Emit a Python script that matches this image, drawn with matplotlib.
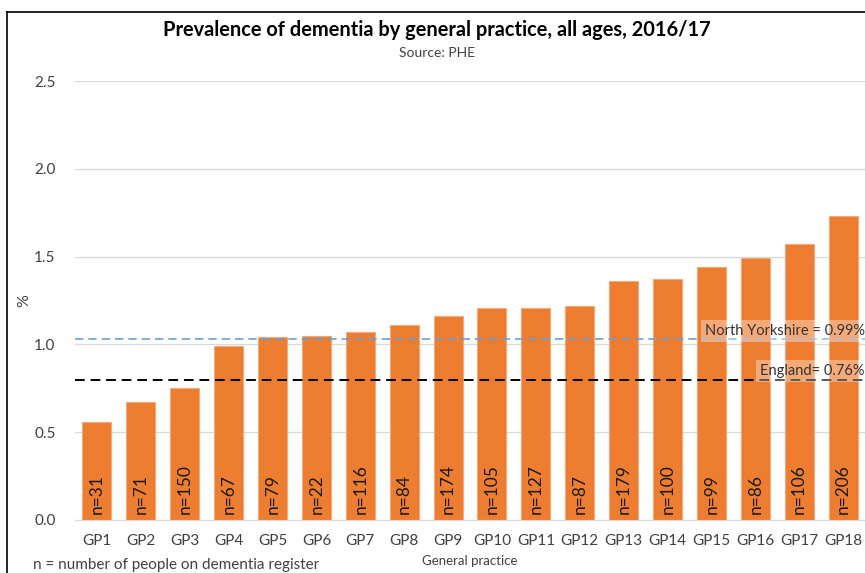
import matplotlib
import matplotlib.pyplot as plt
from matplotlib.lines import Line2D

matplotlib.use("agg")
plt.rcParams["font.family"] = ["Lato", "DejaVu Sans"]

practices = [f"GP{i}" for i in range(1, 19)]
prevalence = [0.56, 0.67, 0.75, 0.99, 1.04, 1.05, 1.07, 1.11, 1.16,
              1.21, 1.21, 1.22, 1.36, 1.37, 1.44, 1.49, 1.57, 1.73]
register_n = [31, 71, 150, 67, 79, 22, 116, 84, 174,
              105, 127, 87, 179, 100, 99, 86, 106, 206]
north_yorkshire_line = 1.03
england_line = 0.80

fig = plt.figure(figsize=(8.65, 5.73), dpi=100)
ax = fig.add_axes([0.0867, 0.0925, 0.9133, 0.766])

x = list(range(len(practices)))
ax.bar(x, prevalence, width=0.66, color="#ED7D31", edgecolor="#F4A97A",
       linewidth=0.8, zorder=2)
for xi, n in zip(x, register_n):
    ax.text(xi, 0.035, f"n={n}", rotation=90, ha="center", va="bottom",
            fontsize=12.5, color="#1a1a1a", zorder=3)

ax.axhline(north_yorkshire_line, color="#6A9FD8", linestyle=(0, (5, 3)),
           linewidth=1.2, zorder=4)
ax.axhline(england_line, color="black", linestyle=(0, (5, 3)),
           linewidth=1.4, zorder=4)
ax.text(17.5, north_yorkshire_line + 0.045, "North Yorkshire = 0.99%",
        ha="right", va="center", fontsize=10.5, color="#333333", zorder=5,
        bbox=dict(facecolor="white", alpha=0.35, edgecolor="none", pad=3))
ax.text(17.5, england_line + 0.05, "England= 0.76%",
        ha="right", va="center", fontsize=10.5, color="#333333", zorder=5,
        bbox=dict(facecolor="white", alpha=0.35, edgecolor="none", pad=3))

ax.set_xlim(-0.5, 17.5)
ax.set_ylim(0, 2.5)
ax.set_yticks([0, 0.5, 1.0, 1.5, 2.0, 2.5])
ax.set_yticklabels(["0.0", "0.5", "1.0", "1.5", "2.0", "2.5"])
ax.set_xticks(x)
ax.set_xticklabels(practices)
ax.tick_params(axis="both", length=0, labelsize=11, colors="#404040")
ax.tick_params(axis="y", pad=14)
ax.tick_params(axis="x", pad=10)
ax.grid(axis="y", color="#D9D9D9", linewidth=0.9, zorder=0)
ax.set_axisbelow(True)
for side in ["top", "right", "left"]:
    ax.spines[side].set_visible(False)
ax.spines["bottom"].set_color("#D9D9D9")

ax.set_ylabel("%", fontsize=11.5, color="#404040", labelpad=2)
ax.set_xlabel("General practice", fontsize=9.5, color="#404040", labelpad=5)

fig.text(0.505, 0.948, "Prevalence of dementia by general practice, all ages, 2016/17",
         ha="center", va="center", fontsize=14.4, fontweight="bold", color="black")
fig.text(0.505, 0.908, "Source: PHE", ha="center", va="center",
         fontsize=10, color="#404040")
fig.text(0.038, 0.002, "n = number of people on dementia register",
         ha="left", va="bottom", fontsize=11, color="#404040")

# chart frame (cut off at right and bottom)
fig.add_artist(Line2D([0.008, 0.008], [0, 0.979], color="black", linewidth=1.2,
                      transform=fig.transFigure))
fig.add_artist(Line2D([0.008, 1.0], [0.979, 0.979], color="black", linewidth=1.2,
                      transform=fig.transFigure))

fig.savefig("out.png", dpi=100)
